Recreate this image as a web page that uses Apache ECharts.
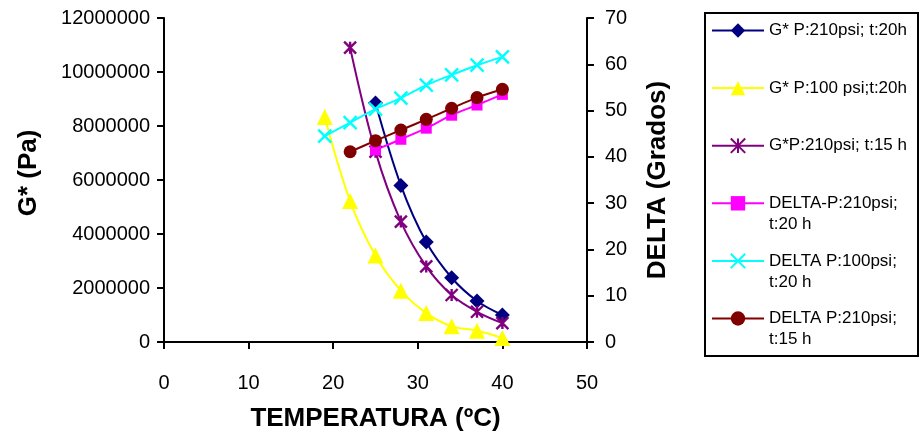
<!DOCTYPE html>
<html>
<head>
<meta charset="utf-8">
<script src="https://cdn.jsdelivr.net/npm/echarts@6/dist/echarts.min.js"></script>
<style>
  html, body { margin: 0; padding: 0; background: #fff; }
  #chart { width: 922px; height: 441px; }
</style>
</head>
<body>
<div id="chart"></div>
<script>
// Test temperatures (ºC) for each sample run
var tempsP210T20 = [25, 28, 31, 34, 37, 40];
var tempsP100T20 = [19, 22, 25, 28, 31, 34, 37, 40];
var tempsP210T15 = [22, 25, 28, 31, 34, 37, 40];

// Complex modulus G* (Pa), left axis
var gStarP210T20 = [8850000, 5800000, 3700000, 2380000, 1520000, 1000000];
var gStarP100T20 = [8330000, 5220000, 3200000, 1900000, 1070000, 580000, 420000, 150000];
var gStarP210T15 = [10900000, 7050000, 4460000, 2800000, 1740000, 1120000, 700000];

// Phase angle DELTA (grados), right axis
var deltaP210T20 = [41.5, 43.8, 46.2, 49.0, 51.2, 53.5];
var deltaP100T20 = [44.5, 47.4, 50.3, 52.7, 55.5, 57.7, 59.8, 61.6];
var deltaP210T15 = [41.1, 43.5, 45.8, 48.1, 50.5, 52.8, 54.6];

var seriesNames = [
  'G* P:210psi; t:20h',
  'G* P:100 psi;t:20h',
  'G*P:210psi; t:15 h',
  'DELTA-P:210psi;\nt:20 h',
  'DELTA P:100psi;\nt:20 h',
  'DELTA P:210psi;\nt:15 h'
];

var xTicks = { min: 0, max: 50, interval: 10 };
var leftTicks = { min: 0, max: 12000000, interval: 2000000 };
var rightTicks = { min: 0, max: 70, interval: 10 };

var FONT = '"Liberation Sans", Arial, sans-serif';

function pairs(xs, ys) {
  return xs.map(function (x, i) { return [x, ys[i]]; });
}

var STAR = 'path://M0,0L10,10M10,0L0,10M5,0L5,10';
var CROSS = 'path://M0,0L10,10M10,0L0,10';

function lineSeries(name, data, color, symbol, size, yAxisIndex, stroked) {
  var s = {
    name: name,
    type: 'line',
    yAxisIndex: yAxisIndex,
    data: data,
    smooth: 0.35,
    symbol: symbol,
    symbolSize: size,
    showAllSymbol: true,
    lineStyle: { color: color, width: 2 },
    itemStyle: { color: color },
    emphasis: { disabled: true }
  };
  if (stroked) {
    s.itemStyle = { color: color, borderColor: color, borderWidth: 2.4 };
  }
  return s;
}

var chart = echarts.init(document.getElementById('chart'), null, { renderer: 'canvas' });

var axisLabelStyle = { color: '#000', fontSize: 20, fontFamily: FONT };
var nameStyle = { color: '#000', fontSize: 26, fontWeight: 'bold', fontFamily: FONT };
var axisLineStyle = { show: true, lineStyle: { color: '#000', width: 2 } };
var tickStyle = { show: true, length: 7, lineStyle: { color: '#000', width: 2 } };

chart.setOption({
  animation: false,
  backgroundColor: '#fff',
  grid: { left: 164, right: 335, top: 18, bottom: 99 },
  graphic: [{
    type: 'rect',
    shape: { x: 705, y: 13, width: 213, height: 343 },
    style: { fill: 'none', stroke: '#000', lineWidth: 2 },
    silent: true
  }],
  legend: {
    orient: 'vertical',
    left: 711,
    top: -1,
    padding: 0,
    itemGap: -5.4,
    itemWidth: 52,
    itemHeight: 18,
    data: seriesNames,
    textStyle: { color: '#000', fontSize: 17, lineHeight: 21, fontFamily: FONT },
    formatter: function (name) {
      return name.indexOf('\n') >= 0 ? '\n' + name : '\n' + name + '\n';
    }
  },
  xAxis: {
    type: 'value',
    min: xTicks.min, max: xTicks.max, interval: xTicks.interval,
    name: 'TEMPERATURA (ºC)',
    nameLocation: 'middle',
    nameGap: 64,
    nameTextStyle: nameStyle,
    axisLine: { show: true, onZero: false, lineStyle: { color: '#000', width: 2 } },
    axisTick: tickStyle,
    axisLabel: Object.assign({ margin: 31 }, axisLabelStyle),
    splitLine: { show: false }
  },
  yAxis: [{
    type: 'value',
    position: 'left',
    min: leftTicks.min, max: leftTicks.max, interval: leftTicks.interval,
    name: 'G* (Pa)',
    nameLocation: 'middle',
    nameRotate: 90,
    nameGap: 122,
    nameTextStyle: Object.assign({ padding: [0, 0, 0, 14] }, nameStyle),
    axisLine: axisLineStyle,
    axisTick: tickStyle,
    axisLabel: Object.assign({ margin: 14, formatter: function (v) { return String(v); } }, axisLabelStyle),
    splitLine: { show: false }
  }, {
    type: 'value',
    position: 'right',
    min: rightTicks.min, max: rightTicks.max, interval: rightTicks.interval,
    name: 'DELTA (Grados)',
    nameLocation: 'middle',
    nameRotate: 90,
    nameGap: 58,
    nameTextStyle: nameStyle,
    axisLine: axisLineStyle,
    axisTick: tickStyle,
    axisLabel: Object.assign({ margin: 18 }, axisLabelStyle),
    splitLine: { show: false }
  }],
  series: [
    lineSeries(seriesNames[0], pairs(tempsP210T20, gStarP210T20), '#000080', 'diamond', 15, 0, false),
    lineSeries(seriesNames[1], pairs(tempsP100T20, gStarP100T20), '#FFFF00', 'triangle', 16, 0, false),
    lineSeries(seriesNames[2], pairs(tempsP210T15, gStarP210T15), '#800080', STAR, 12, 0, true),
    lineSeries(seriesNames[3], pairs(tempsP210T20, deltaP210T20), '#FF00FF', 'rect', 11, 1, false),
    lineSeries(seriesNames[4], pairs(tempsP100T20, deltaP100T20), '#00FFFF', CROSS, 13, 1, true),
    lineSeries(seriesNames[5], pairs(tempsP210T15, deltaP210T15), '#800000', 'circle', 13, 1, false)
  ]
});
</script>
</body>
</html>
